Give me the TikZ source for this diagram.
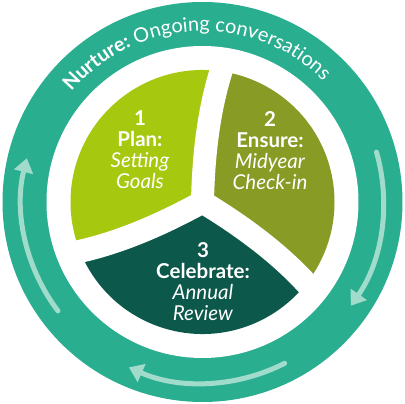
\documentclass[tikz,border=0pt]{standalone}
\usepackage{fontspec}
\setmainfont{Lato}
\usetikzlibrary{arrows.meta, decorations.text}

\definecolor{ringTeal}{RGB}{42,174,144}
\definecolor{arrowMint}{RGB}{160,219,203}
\definecolor{planLime}{RGB}{166,200,15}
\definecolor{ensureOlive}{RGB}{135,155,37}
\definecolor{celebrateDark}{RGB}{12,88,74}

\begin{document}
\begin{tikzpicture}[x=1pt, y=1pt]
		\tikzstyle{SectorText} = [align=center, text=white, inner sep=0pt, font=\fontsize{20.5}{21}\selectfont]
		\tikzstyle{GapLine} = [white, line width=23pt]
		\tikzstyle{arrow} = [draw=arrowMint, line width=5pt, line cap=round, -{Triangle[width=19pt, length=14pt]}]
		
		\useasboundingbox (-202.5,-202) rectangle (202.5,202);
		
		% outer ring
		\fill[ringTeal] (0,0) circle (200pt);
		\fill[white] (0,0) circle (156pt);
		
		% three sectors
		\fill[planLime] (0,0) -- (82:132pt) arc[start angle=82, end angle=202, radius=132pt] -- cycle;
		\fill[ensureOlive] (0,0) -- (-38:132pt) arc[start angle=-38, end angle=82, radius=132pt] -- cycle;
		\fill[celebrateDark] (0,0) -- (202:132pt) arc[start angle=202, end angle=322, radius=132pt] -- cycle;
		
		% white gaps between the sectors
		\foreach \r in {0,120,240}
			\draw[GapLine, rotate=\r] (0,0) .. controls (1,50) and (7,100) .. (23,144);
		\fill[white] (0,0) circle (11pt);
		
		\node (planText) [SectorText] at (-62.5,52) {\textbf{1}\\\textbf{Plan:}\\\textit{Setting}\\\textit{Goals}};
		\node (ensureText) [SectorText] at (67.5,51) {\textbf{2}\\\textbf{Ensure:}\\\textit{Midyear}\\\textit{Check-in}};
		\node (celebrateText) [SectorText] at (0.5,-79.5) {\textbf{3}\\\textbf{Celebrate:}\\\textit{Annual}\\\textit{Review}};
		
		% text on the ring
		\path[decorate, decoration={text along path, text color=white, text align=center,
			text={|\fontsize{20}{20}\selectfont\bfseries|Nurture:|\fontsize{20}{20}\selectfont\mdseries| Ongoing conversations}}]
			(150:171pt) arc[start angle=150, end angle=35, radius=171pt];
		
		% cycle arrows
		\foreach \a in {16,-63,-143}
			\draw[arrow] (\a:181pt) arc[start angle=\a, end angle=\a-51, radius=181pt];
\end{tikzpicture}
\end{document}
